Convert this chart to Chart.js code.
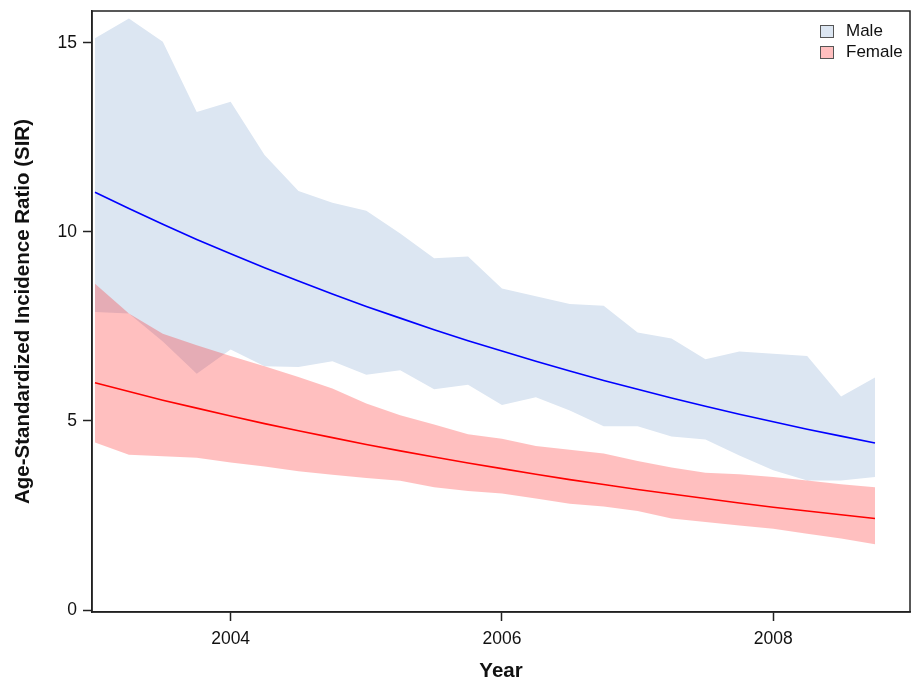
<!DOCTYPE html>
<html>
<head>
<meta charset="utf-8">
<script src="https://cdn.jsdelivr.net/npm/chart.js@4/dist/chart.umd.min.js"></script>
<style>
  html, body { margin: 0; padding: 0; background: #fff; }
  #wrap { width: 911px; height: 682px; }
</style>
</head>
<body>
<div id="wrap"><canvas id="sirChart" width="911" height="682"></canvas></div>
<script>
// quarterly points
const years = [2003, 2003.25, 2003.5, 2003.75, 2004, 2004.25, 2004.5, 2004.75,
               2005, 2005.25, 2005.5, 2005.75, 2006, 2006.25, 2006.5, 2006.75,
               2007, 2007.25, 2007.5, 2007.75, 2008, 2008.25, 2008.5, 2008.75];

const maleUpper = [15.12, 15.64, 15.03, 13.17, 13.44, 12.03, 11.08, 10.77, 10.56, 9.96, 9.30, 9.35,
                   8.50, 8.30, 8.09, 8.05, 7.34, 7.18, 6.63, 6.84, 6.78, 6.72, 5.65, 6.15];
const maleLower = [7.88, 7.84, 7.10, 6.25, 6.89, 6.45, 6.43, 6.58, 6.22, 6.34, 5.84, 5.96,
                   5.42, 5.63, 5.28, 4.86, 4.86, 4.59, 4.51, 4.09, 3.70, 3.43, 3.43, 3.52];
const maleFit = [11.05, 10.62, 10.20, 9.80, 9.42, 9.05, 8.70, 8.36, 8.03, 7.72, 7.41, 7.12,
                 6.85, 6.58, 6.32, 6.07, 5.84, 5.61, 5.39, 5.18, 4.98, 4.78, 4.60, 4.42];

const femaleUpper = [8.63, 7.84, 7.31, 7.00, 6.72, 6.45, 6.16, 5.86, 5.46, 5.15, 4.91, 4.65,
                     4.53, 4.34, 4.24, 4.14, 3.94, 3.77, 3.63, 3.59, 3.52, 3.43, 3.33, 3.25];
const femaleLower = [4.43, 4.11, 4.07, 4.03, 3.90, 3.80, 3.67, 3.58, 3.49, 3.42, 3.25, 3.15,
                     3.08, 2.95, 2.81, 2.74, 2.62, 2.42, 2.33, 2.24, 2.15, 2.02, 1.89, 1.74];
const femaleFit = [6.01, 5.78, 5.55, 5.34, 5.13, 4.93, 4.74, 4.56, 4.38, 4.21, 4.05, 3.89,
                   3.74, 3.59, 3.45, 3.32, 3.19, 3.07, 2.95, 2.83, 2.72, 2.62, 2.52, 2.42];

const xTicks = [2004, 2006, 2008];
const yTicks = [0, 5, 10, 15];

const FONT = "'Liberation Sans', Arial, sans-serif";
const maleFill = "#dce6f2";
const femaleFill = "rgba(255, 0, 0, 0.25)";

function pts(arr) {
    return years.map((x, i) => ({ x: x, y: arr[i] }));
}

// frame around the plot + legend in the top right corner
const framePlugin = {
    id: "frame",
    afterDraw(chart) {
        const ctx = chart.ctx;
        const a = chart.chartArea;
        ctx.save();
        ctx.strokeStyle = "#222";
        ctx.lineWidth = 1.5;
        ctx.strokeRect(a.left, a.top, a.right - a.left, a.bottom - a.top);

        const items = chart.data.datasets.filter(d => d.legendBox);
        ctx.font = "17px " + FONT;
        ctx.textBaseline = "middle";
        ctx.textAlign = "left";
        items.forEach((d, i) => {
            const y = 25 + i * 21;
            ctx.fillStyle = "#fff";
            ctx.fillRect(820, y, 14, 12.5);
            ctx.fillStyle = d.legendBox;
            ctx.fillRect(820, y, 14, 12.5);
            ctx.strokeStyle = "#555";
            ctx.lineWidth = 1;
            ctx.strokeRect(820.5, y + 0.5, 13, 12);
            ctx.fillStyle = "#111";
            ctx.fillText(d.label, 846, y + 6.5);
        });
        ctx.restore();
    }
};

function noPad(scale) {
    scale.paddingTop = 0;
    scale.paddingBottom = 0;
    scale.paddingLeft = 0;
    scale.paddingRight = 0;
}

const ctx = document.getElementById("sirChart").getContext("2d");
new Chart(ctx, {
    type: "line",
    data: {
        datasets: [
            { label: "Male", data: pts(maleUpper), fill: "+1", backgroundColor: maleFill,
              borderWidth: 0, pointRadius: 0, order: 3, legendBox: maleFill },
            { label: "Male lower", data: pts(maleLower), fill: false,
              borderWidth: 0, pointRadius: 0, order: 3 },
            { label: "Female", data: pts(femaleUpper), fill: "+1", backgroundColor: femaleFill,
              borderWidth: 0, pointRadius: 0, order: 2, legendBox: "#ffbfbf" },
            { label: "Female lower", data: pts(femaleLower), fill: false,
              borderWidth: 0, pointRadius: 0, order: 2 },
            { label: "Male fit", data: pts(maleFit), fill: false, borderColor: "#0000ff",
              borderWidth: 1.6, pointRadius: 0, order: 1 },
            { label: "Female fit", data: pts(femaleFit), fill: false, borderColor: "#ff0000",
              borderWidth: 1.6, pointRadius: 0, order: 1 }
        ]
    },
    options: {
        responsive: false,
        animation: false,
        layout: { padding: { top: 11, right: 1, left: 0, bottom: 0 } },
        plugins: {
            legend: { display: false },
            tooltip: { enabled: false }
        },
        scales: {
            x: {
                type: "linear",
                min: 2002.978,
                max: 2009.008,
                afterBuildTicks: function(scale) {
                    scale.ticks = xTicks.map(v => ({ value: v }));
                },
                afterFit: function(scale) { scale.height = 70; noPad(scale); },
                ticks: {
                    color: "#111",
                    padding: 8,
                    font: { family: FONT, size: 17.5 },
                    callback: v => String(v)
                },
                grid: { drawOnChartArea: false, tickLength: 9, color: "#222", tickWidth: 1.5 },
                border: { color: "#222", width: 1.5 },
                title: {
                    display: true,
                    text: "Year",
                    color: "#111",
                    font: { family: FONT, size: 20.5, weight: "bold", lineHeight: 1 },
                    padding: { top: 0, bottom: 0 }
                }
            },
            y: {
                type: "linear",
                min: -0.05,
                max: 15.84,
                afterBuildTicks: function(scale) {
                    scale.ticks = yTicks.map(v => ({ value: v }));
                },
                afterFit: function(scale) { scale.width = 92; noPad(scale); },
                ticks: {
                    color: "#111",
                    padding: 6,
                    font: { family: FONT, size: 17.5 },
                    callback: v => String(v)
                },
                grid: { drawOnChartArea: false, tickLength: 9, color: "#222", tickWidth: 1.5 },
                border: { color: "#222", width: 1.5 },
                title: {
                    display: true,
                    text: "Age-Standardized Incidence Ratio (SIR)",
                    color: "#111",
                    font: { family: FONT, size: 20.5, weight: "bold", lineHeight: 1 },
                    padding: { top: 13, bottom: 0 }
                }
            }
        }
    },
    plugins: [framePlugin]
});
</script>
</body>
</html>
